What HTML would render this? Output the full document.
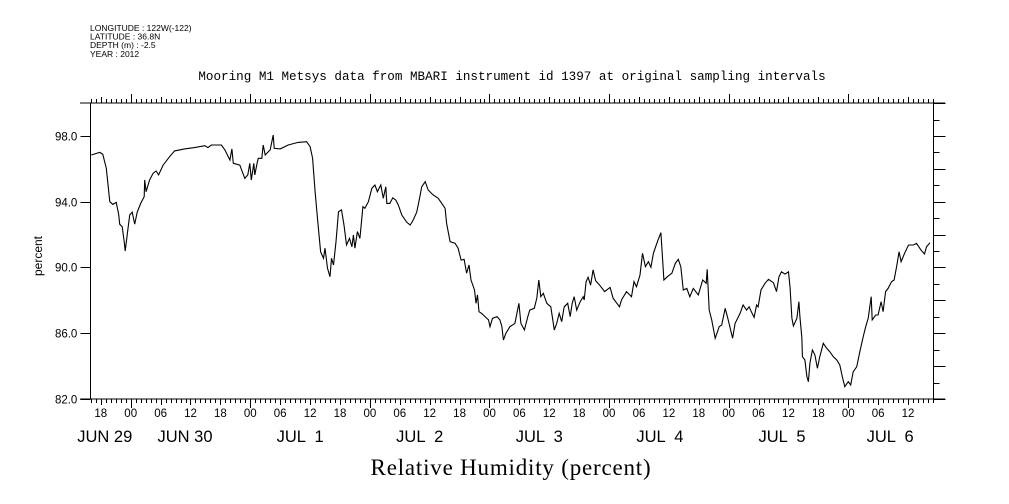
<!DOCTYPE html>
<html><head><meta charset="utf-8"><style>
body{margin:0;background:#fff;width:1009px;height:504px;overflow:hidden}
svg{display:block}
</style></head><body>
<svg id="chart" width="1009" height="504" viewBox="0 0 1009 504" xmlns="http://www.w3.org/2000/svg" font-family="Liberation Sans, sans-serif">
<g font-size="8.5" fill="#000">
<text x="90" y="31">LONGITUDE : 122W(-122)</text>
<text x="90" y="39.5">LATITUDE : 36.8N</text>
<text x="90" y="48">DEPTH (m) : -2.5</text>
<text x="90" y="57">YEAR : 2012</text>
</g>
<text x="512" y="80" text-anchor="middle" font-family="Liberation Mono, monospace" font-size="12.6">Mooring M1 Metsys data from MBARI instrument id 1397 at original sampling intervals</text>
<text transform="translate(42,256) rotate(-90)" text-anchor="middle" font-size="12">percent</text>
<text x="511" y="475" text-anchor="middle" font-family="Liberation Serif, serif" font-size="23" letter-spacing="0.8">Relative Humidity (percent)</text>
<g id="axes"></g>
<g id="series"></g>
</svg>
<script>
const hours = [-7.9,-6.2,-5.6,-4.9,-4.2,-3.6,-2.9,-2.4,-2.2,-1.7,-1.3,-1.1,-0.7,-0.2,0.3,0.8,1.3,2.0,2.7,2.8,3.1,3.8,4.5,5.1,5.6,6.5,7.8,8.8,10.8,12.8,14.9,15.5,16.2,18.2,18.9,19.9,20.3,20.6,21.9,22.9,23.5,23.9,24.2,24.7,24.9,25.4,
25.6,26.3,26.6,27.0,28.0,28.6,28.8,30.0,31.6,33.6,35.3,36.0,36.5,37.0,37.6,38.1,38.7,39.0,39.5,40.0,40.3,40.7,41.2,41.7,42.3,42.8,43.3,43.9,44.4,44.7,45.0,45.5,46.0,46.6,47.0,47.7,48.4,49.0,49.5,50.2,50.7,51.2,51.4,52.0,52.6,53.2,53.7,54.4,55.4,56.1,56.7,57.4,57.9,
58.4,59.1,59.7,60.7,61.7,63.1,63.4,64.1,65.1,65.7,66.3,66.9,67.4,67.9,68.3,69.0,69.3,69.6,69.9,70.4,71.1,71.8,72.1,72.6,73.5,74.1,74.5,74.8,75.3,76.1,77.1,77.9,78.3,79.0,79.7,80.1,81.0,81.5,81.9,82.3,82.8,83.5,84.3,85.0,85.5,86.0,86.5,87.0,87.7,88.2,88.6,89.0,89.5,90.2,90.8,
91.0,91.4,91.8,92.3,92.8,93.3,94.1,95.1,96.2,96.8,98.1,98.5,99.5,100.5,101.0,101.5,102.2,102.7,103.3,103.9,104.4,104.9,105.7,106.4,107.0,107.7,108.6,109.3,109.9,110.4,110.9,111.6,112.2,112.9,113.9,114.8,115.5,115.7,116.1,116.6,117.3,118.1,118.6,119.3,119.9,120.8,121.3,122.3,122.9,123.6,124.1,
124.7,125.1,125.6,125.9,126.5,127.3,128.0,129.0,129.6,130.1,130.6,131.3,132.0,132.3,132.7,133.0,133.7,134.1,134.3,134.7,134.8,135.3,135.7,136.0,136.3,136.8,137.3,137.8,138.3,139.0,139.7,140.3,141.0,141.7,142.3,142.8,143.3,144.0,144.5,145.0,145.7,146.4,147.0,147.5,148.0,148.6,148.8,149.5,150.0,150.6,151.0,151.5,152.0,152.7,153.2,153.7,154.2,154.6,155.3,156.1,157.1,157.7,158.6,159.3,159.7,160.4];
const humidity = [96.84,97.0,96.88,96.03,94.0,93.84,93.96,93.23,92.63,92.48,91.57,91.0,91.98,93.19,93.36,92.63,93.36,93.9,94.31,95.32,94.61,95.32,95.73,95.87,95.63,96.23,96.74,97.09,97.21,97.29,97.41,97.29,97.45,97.45,97.15,96.54,97.21,96.34,96.23,95.42,95.63,96.34,95.32,96.34,95.63,96.4,
96.64,96.64,97.45,96.84,97.15,98.06,97.25,97.21,97.45,97.61,97.65,97.35,96.64,94.61,92.58,90.96,90.56,91.17,89.95,89.44,90.56,90.15,91.57,93.39,93.5,92.58,91.37,91.77,91.26,91.98,91.17,92.18,91.77,93.7,93.6,94.0,94.82,95.02,94.61,95.02,94.21,94.91,93.9,93.9,94.24,94.1,93.8,93.19,92.75,92.58,92.89,93.36,94.1,
94.91,95.22,94.71,94.41,94.21,93.6,92.69,91.57,91.47,91.17,90.45,90.5,89.65,90.15,89.24,88.63,87.82,88.33,87.31,87.21,87.01,86.81,86.4,86.91,87.01,86.81,86.4,85.59,86.0,86.4,86.6,87.82,86.6,86.2,87.01,87.41,87.52,88.13,89.24,88.22,88.43,87.82,87.61,86.2,86.6,87.21,86.7,87.61,87.82,87.01,87.82,88.22,87.41,87.92,88.22,
88.02,89.14,89.4,88.93,89.85,89.2,88.93,88.53,88.79,88.13,87.61,88.02,88.53,88.22,89.14,88.83,89.54,90.86,90.05,90.35,90.01,90.86,91.57,92.12,89.24,89.44,89.65,90.25,90.5,90.05,88.63,88.73,88.22,88.73,88.33,89.24,89.04,89.89,87.41,86.81,85.69,86.4,86.5,87.52,86.81,85.69,86.6,87.21,87.72,87.41,87.61,
87.21,86.97,87.72,87.61,88.63,89.04,89.28,89.07,88.53,89.44,89.74,89.6,89.74,88.83,86.91,86.44,86.91,87.92,87.01,85.69,84.57,84.37,83.36,83.05,84.17,84.98,84.68,83.87,84.57,85.39,85.08,84.88,84.57,84.37,84.07,83.36,82.75,83.05,82.85,83.66,83.96,84.98,85.79,86.4,86.91,88.22,86.81,87.11,87.11,87.92,87.31,88.53,88.73,89.14,89.24,90.05,90.96,90.35,90.86,91.37,91.37,91.47,91.06,90.82,91.26,91.51];
const yTickValues = [98,94,90,86,82];
const yTickLabels = ["98.0","94.0","90.0","86.0","82.0"];
const xTickHours = [-6,0,6,12,18,24,30,36,42,48,54,60,66,72,78,84,90,96,102,108,114,120,126,132,138,144,150,156];
const xTickLabels = ["18","00","06","12","18","00","06","12","18","00","06","12","18","00","06","12","18","00","06","12","18","00","06","12","18","00","06","12"];
const dateHours = [-5.2,10.9,34,58,82,106.2,130.7,152.4];
const dateLabels = ["JUN 29","JUN 30","JUL  1","JUL  2","JUL  3","JUL  4","JUL  5","JUL  6"];

const X0=130.7, PXH=4.983, Y0=399, PXV=16.44;
const HMIN=-8.1, HMAX=161.1, VMIN=82, VMAX=100;
function xs(h){return X0+h*PXH;}
function ys(v){return Y0-(v-VMIN)*PXV;}
const NS="http://www.w3.org/2000/svg";
const axes=document.getElementById('axes');
function line(x1,y1,x2,y2,name){
  const l=document.createElementNS(NS,'line');
  l.setAttribute('x1',x1);l.setAttribute('y1',y1);l.setAttribute('x2',x2);l.setAttribute('y2',y2);
  l.setAttribute('stroke','#000');l.setAttribute('stroke-width','1');l.setAttribute('shape-rendering','crispEdges');
  
  
  axes.appendChild(l);
}
function text(x,y,s,size,anchor,name){
  const t=document.createElementNS(NS,'text');
  t.setAttribute('x',x);t.setAttribute('y',y);t.setAttribute('font-size',size);t.setAttribute('text-anchor',anchor);
  t.textContent=s;
  
  
  axes.appendChild(t);
}
const L=xs(HMIN), R=xs(HMAX), T=ys(VMAX), B=ys(VMIN);
line(L,T,L,B,'left-axis-line');
line(R,T,R,B,'right-axis-line');
line(80,T,945,T,'top-axis-line');
line(80,B,945,B,'bottom-axis-line');
for(let h=Math.ceil(HMIN);h<=HMAX;h++){
  const x=Math.round(xs(h))+0.5;
  const hod=((h%24)+24)%24;
  const len = hod===0?9:(hod%6===0?6:4);
  line(x,T,x,T-len,'top-tick');
  line(x,B,x,B+len,'bottom-tick');
}
for(let v=VMIN;v<=VMAX;v++){
  const y=Math.round(ys(v))+0.5;
  const len = v%2===0?12:6;
  line(R,y,R+len,y,'right-tick');
  if(v%4===2){line(L-10,y,L,y,'left-tick');}
}
yTickValues.forEach((v,i)=>{
  const y=Math.round(ys(v))+0.5;
  line(L-10,y,L,y,'y-major-tick');
  text(L-13,y+4,yTickLabels[i],11.5,'end','y-tick-label');
});
xTickHours.forEach((h,i)=>{
  text(xs(h),417,xTickLabels[i],11.5,'middle','x-tick-label');
});
dateHours.forEach((h,i)=>{
  const t=document.createElementNS(NS,'text');
  t.setAttribute('x',xs(h));t.setAttribute('y',442);t.setAttribute('font-size','16.5');t.setAttribute('text-anchor','middle');
  t.setAttribute('xml:space','preserve');t.style.whiteSpace='pre';
  t.textContent=dateLabels[i];
  
  
  axes.appendChild(t);
});
const series=document.getElementById('series');
const p=document.createElementNS(NS,'polyline');
p.setAttribute('points',hours.map((h,i)=>xs(h).toFixed(1)+','+ys(humidity[i]).toFixed(1)).join(' '));
p.setAttribute('fill','none');p.setAttribute('stroke','#000');p.setAttribute('stroke-width','1.1');


series.appendChild(p);
</script>
</body></html>
